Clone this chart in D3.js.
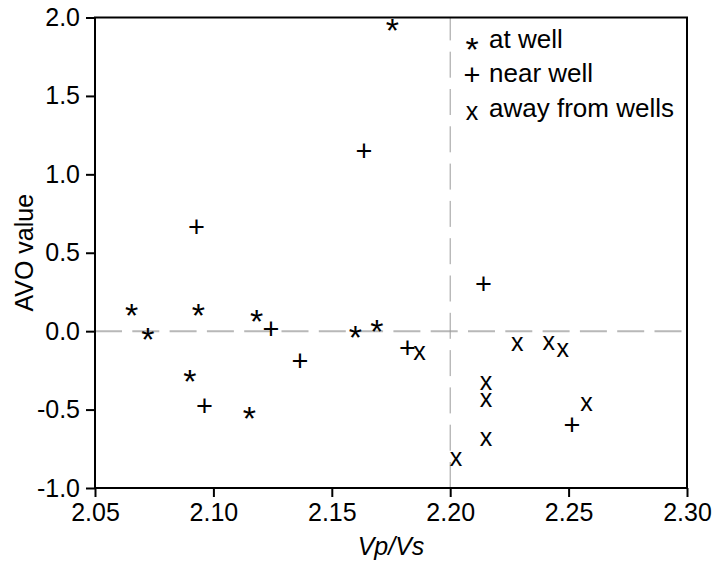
<!DOCTYPE html>
<html><head><meta charset="utf-8">
<script src="https://cdn.jsdelivr.net/npm/d3@7"></script>
<style>
html,body{margin:0;padding:0;background:#fff;}
svg{display:block;font-family:"Liberation Sans",Arial,Helvetica,sans-serif;}
</style></head>
<body>
<script>
// ---- data ----
const atWellX   = [2.0655, 2.0723, 2.0936, 2.1183, 2.0901, 2.1152, 2.1599, 2.1690, 2.1756];
const atWellY   = [0.153, 0.000, 0.153, 0.115, -0.272, -0.506, 0.008, 0.051, 1.969];
const nearWellX = [2.1243, 2.0962, 2.1366, 2.1820, 2.2140, 2.2514, 2.1636, 2.0929];
const nearWellY = [0.015, -0.476, -0.185, -0.102, 0.301, -0.593, 1.151, 0.667];
const awayX     = [2.1870, 2.2283, 2.2416, 2.2475, 2.2151, 2.2151, 2.2576, 2.2151, 2.2025];
const awayY     = [-0.140, -0.087, -0.081, -0.124, -0.331, -0.444, -0.465, -0.688, -0.816];
const xTicks = [2.05, 2.10, 2.15, 2.20, 2.25, 2.30];
const xTickLabels = ["2.05", "2.10", "2.15", "2.20", "2.25", "2.30"];
const yTicks = [-1.0, -0.5, 0.0, 0.5, 1.0, 1.5, 2.0];
const yTickLabels = ["-1.0", "-0.5", "0.0", "0.5", "1.0", "1.5", "2.0"];
const seriesNames = ["at well", "near well", "away from wells"];
const seriesGlyphs = ["*", "+", "x"];
const refX = 2.20, refY = 0.0;

// ---- layout ----
const W = 717, H = 562;
const L = 95, R = 687, T = 17.5, B = 488;
const svg = d3.select("body").append("svg").attr("width", W).attr("height", H);
const x = d3.scaleLinear().domain([2.05, 2.30]).range([L, R]);
const y = d3.scaleLinear().domain([-1, 2]).range([B, T]);

// reference lines
svg.append("line").attr("x1", x(2.05)).attr("x2", x(2.30)).attr("y1", y(refY)).attr("y2", y(refY))
  .attr("stroke", "#b8b8b8").attr("stroke-width", 2).attr("stroke-dasharray", "27,10.3");
svg.append("line").attr("x1", x(refX)).attr("x2", x(refX)).attr("y1", y(-1)).attr("y2", y(2))
  .attr("stroke", "#9a9a9a").attr("stroke-width", 1).attr("stroke-dasharray", "26,11.3");

// axes
const fmtX = d => xTickLabels[xTicks.indexOf(d)];
const fmtY = d => yTickLabels[yTicks.indexOf(d)];
const gx = svg.append("g").attr("transform", `translate(0,${B})`)
  .call(d3.axisBottom(x).tickValues(xTicks).tickFormat(fmtX).tickSize(9).tickPadding(6));
const gy = svg.append("g").attr("transform", `translate(${L},0)`)
  .call(d3.axisLeft(y).tickValues(yTicks).tickFormat(fmtY).tickSize(9).tickPadding(6));
[gx, gy].forEach(g => {
  g.select(".domain").remove();
  g.selectAll(".tick line").attr("stroke", "#000").attr("stroke-width", 2);
  g.selectAll(".tick text").attr("fill", "#000").attr("font-size", 25)
    .attr("font-family", "'Liberation Sans',Arial,sans-serif");
});
gx.selectAll(".tick text").attr("dy", "0.71em");
// frame
svg.append("rect").attr("x", L).attr("y", T).attr("width", R - L).attr("height", B - T)
  .attr("fill", "none").attr("stroke", "#000").attr("stroke-width", 2);

// axis titles
svg.append("text").attr("x", (L + R) / 2).attr("y", 555).attr("text-anchor", "middle")
  .attr("font-size", 25).attr("font-style", "italic").text("Vp/Vs");
svg.append("text").attr("transform", `translate(33,${(T + B) / 2}) rotate(-90)`)
  .attr("text-anchor", "middle").attr("font-size", 25).text("AVO value");

// markers (text glyphs), offsets center the glyph ink on the point
const glyphDy = {"*": 14.3, "+": 9.0, "x": 6.5};
const glyphSize = {"*": 34, "+": 29, "x": 25};
const series = [
  {g: "*", xs: atWellX, ys: atWellY},
  {g: "+", xs: nearWellX, ys: nearWellY},
  {g: "x", xs: awayX, ys: awayY}
];
series.forEach(s => {
  svg.append("g").selectAll("text").data(s.xs.map((v, i) => [v, s.ys[i]])).join("text")
    .attr("x", d => x(d[0])).attr("y", d => y(d[1]) + glyphDy[s.g] * glyphSize[s.g] / 25)
    .attr("text-anchor", "middle").attr("font-size", glyphSize[s.g]).text(s.g);
});

// legend
const legY = [47.5, 82, 116.5];
const legMarkY = [41.7, 75, 113.3];
seriesNames.forEach((n, i) => {
  const gg = seriesGlyphs[i];
  svg.append("text").attr("x", 472).attr("y", legMarkY[i] + glyphDy[gg] * glyphSize[gg] / 25)
    .attr("text-anchor", "middle").attr("font-size", glyphSize[gg]).text(gg);
  svg.append("text").attr("x", 489).attr("y", legY[i]).attr("font-size", 26).text(n);
});
</script>
</body></html>
